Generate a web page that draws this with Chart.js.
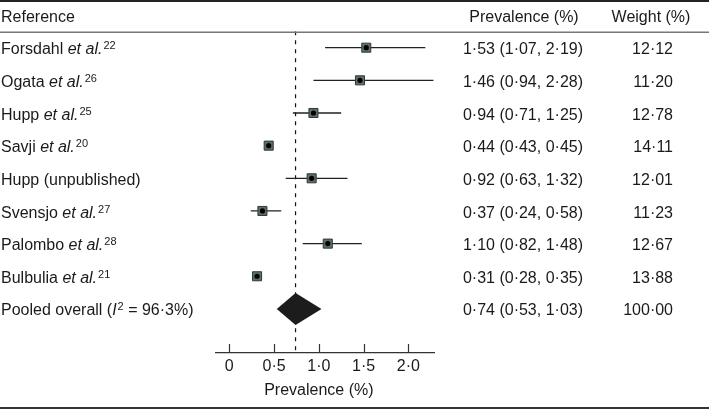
<!DOCTYPE html>
<html>
<head>
<meta charset="utf-8">
<script src="https://cdn.jsdelivr.net/npm/chart.js@4/dist/chart.umd.min.js"></script>
<style>
  html, body { margin: 0; padding: 0; background: #fff; }
  canvas { display: block; }
</style>
</head>
<body>
<canvas id="forest" width="709" height="410"></canvas>
<script>
// study rows, top to bottom
const studyNames = ['Forsdahl', 'Ogata', 'Hupp', 'Savji', 'Hupp (unpublished)', 'Svensjo', 'Palombo', 'Bulbulia'];
const refNumbers = ['22', '26', '25', '20', '', '27', '28', '21'];
const estimates = [1.53, 1.46, 0.94, 0.44, 0.92, 0.37, 1.10, 0.31];
const lowerCI = [1.07, 0.94, 0.71, 0.43, 0.63, 0.24, 0.82, 0.28];
const upperCI = [2.19, 2.28, 1.25, 0.45, 1.32, 0.58, 1.48, 0.35];
const weights = [12.12, 11.20, 12.78, 14.11, 12.01, 11.23, 12.67, 13.88];

// pooled row
const pooledLabel = 'Pooled overall';
const pooledI2 = 96.3;
const pooledEstimate = 0.74;
const pooledLower = 0.53;
const pooledUpper = 1.03;
const pooledWeight = 100.00;

// axis + column headers
const tickValues = [0, 0.5, 1, 1.5, 2];
const axisTitle = 'Prevalence (%)';
const headers = ['Reference', 'Prevalence (%)', 'Weight (%)'];

const FONT = '"Liberation Sans", Arial, Helvetica, sans-serif';
const TEXT = '#1a1a1a';
const pooledRow = studyNames.length;

// 1.5 -> "1·50"
function dot(str) { return String(str).replace('.', '\u00b7'); }

function studyParts(i) {
  if (!refNumbers[i]) return [{t: studyNames[i]}];
  return [{t: studyNames[i] + ' '}, {t: 'et al.', it: true}, {t: refNumbers[i], sup: true}];
}

function pooledParts() {
  return [{t: pooledLabel + ' ('}, {t: 'I', it: true}, {t: '2', sup: true},
          {t: ' = ' + dot(pooledI2.toFixed(1)) + '%)'}];
}

function partFont(p) {
  if (p.sup) return '11px ' + FONT;
  return (p.it ? 'italic ' : '') + '16px ' + FONT;
}

// draws a run of text pieces (italic / superscript) on one baseline
function drawParts(ctx, parts, x, base, align) {
  let w = 0;
  parts.forEach(p => { ctx.font = partFont(p); w += ctx.measureText(p.t).width; });
  let cx = align === 'right' ? x - w : (align === 'center' ? x - w / 2 : x);
  ctx.textAlign = 'left';
  ctx.textBaseline = 'alphabetic';
  parts.forEach(p => {
    ctx.font = partFont(p);
    ctx.fillText(p.t, cx, p.sup ? base - 5 : base);
    cx += ctx.measureText(p.t).width + (p.it && !p.sup ? 1 : 0);
  });
}

// table text, rules and inward tick marks
const tablePlugin = {
  id: 'table',
  afterDraw(chart) {
    const ctx = chart.ctx;
    const x = chart.scales.x, y = chart.scales.y;
    ctx.save();
    ctx.fillStyle = TEXT;

    // headers
    drawParts(ctx, [{t: headers[0]}], 1, 21.5, 'left');
    drawParts(ctx, [{t: headers[1]}], 524, 21.5, 'center');
    drawParts(ctx, [{t: headers[2]}], 651, 21.5, 'center');

    // study rows
    studyNames.forEach((n, i) => {
      const base = y.getPixelForValue(i) + 6.8;
      drawParts(ctx, studyParts(i), 1, base, 'left');
      const txt = dot(estimates[i].toFixed(2)) + ' (' + dot(lowerCI[i].toFixed(2)) + ', ' + dot(upperCI[i].toFixed(2)) + ')';
      drawParts(ctx, [{t: txt}], 583, base, 'right');
      drawParts(ctx, [{t: dot(weights[i].toFixed(2))}], 673, base, 'right');
    });

    // pooled row
    const pb = y.getPixelForValue(pooledRow) + 5.8;
    drawParts(ctx, pooledParts(), 1, pb, 'left');
    const ptxt = dot(pooledEstimate.toFixed(2)) + ' (' + dot(pooledLower.toFixed(2)) + ', ' + dot(pooledUpper.toFixed(2)) + ')';
    drawParts(ctx, [{t: ptxt}], 583, pb, 'right');
    drawParts(ctx, [{t: dot(pooledWeight.toFixed(2))}], 673, pb, 'right');

    // axis title, centred over the labelled ticks
    const mid = (x.getPixelForValue(tickValues[0]) + x.getPixelForValue(tickValues[tickValues.length - 1])) / 2;
    drawParts(ctx, [{t: axisTitle}], mid, 394.5, 'center');

    // tick marks point up from the axis
    ctx.strokeStyle = '#333';
    ctx.lineWidth = 1.2;
    x.ticks.forEach(t => {
      const px = Math.round(x.getPixelForValue(t.value)) + 0.5;
      ctx.beginPath();
      ctx.moveTo(px, chart.chartArea.bottom - 9);
      ctx.lineTo(px, chart.chartArea.bottom);
      ctx.stroke();
    });

    // horizontal rules
    ctx.strokeStyle = '#222';
    ctx.lineWidth = 2;
    ctx.beginPath(); ctx.moveTo(0, 1); ctx.lineTo(709, 1); ctx.stroke();
    ctx.strokeStyle = '#333';
    ctx.beginPath(); ctx.moveTo(0, 408); ctx.lineTo(709, 408); ctx.stroke();
    ctx.strokeStyle = '#777';
    ctx.lineWidth = 1.5;
    ctx.beginPath(); ctx.moveTo(0, 32.3); ctx.lineTo(709, 32.3); ctx.stroke();
    ctx.restore();
  }
};

const yMin = -0.5;
const yMax = pooledRow + 1.35;

const points = estimates.map((v, i) => ({x: v, y: i}));
const ciSegments = [];
estimates.forEach((v, i) => {
  ciSegments.push({x: lowerCI[i], y: i}, {x: upperCI[i], y: i}, {x: NaN, y: NaN});
});

const config = {
  type: 'scatter',
  data: {
    datasets: [
      { // centre dot
        data: points, order: 0,
        pointStyle: 'circle', pointRadius: 2.6,
        backgroundColor: '#000', borderWidth: 0
      },
      { // weight squares
        data: points, order: 1,
        pointStyle: 'rect', pointRadius: 6.4,
        backgroundColor: '#5d6e69', borderColor: '#2f3a37', borderWidth: 1
      },
      { // confidence intervals
        data: ciSegments, order: 2, showLine: true, spanGaps: false,
        borderColor: '#222', borderWidth: 1.3, pointRadius: 0
      },
      { // diamond, upper half
        data: [{x: pooledLower, y: pooledRow}, {x: pooledEstimate, y: pooledRow - 0.49}, {x: pooledUpper, y: pooledRow}],
        order: 3, showLine: true, pointRadius: 0, borderWidth: 0, tension: 0,
        backgroundColor: '#1c1c1c', borderColor: '#1c1c1c', fill: '+1'
      },
      { // diamond, lower half
        data: [{x: pooledLower, y: pooledRow}, {x: pooledEstimate, y: pooledRow + 0.49}, {x: pooledUpper, y: pooledRow}],
        order: 3, showLine: true, pointRadius: 0, borderWidth: 0, tension: 0,
        borderColor: '#1c1c1c'
      },
      { // dashed line at pooled estimate
        data: [{x: pooledEstimate, y: yMin}, {x: pooledEstimate, y: yMax}],
        order: 4, showLine: true, pointRadius: 0,
        borderColor: '#111', borderWidth: 1.2, borderDash: [4, 5]
      }
    ]
  },
  options: {
    responsive: false,
    animation: false,
    layout: { padding: { left: 215.7, right: 274.7, top: 31.35, bottom: 29.8 } },
    plugins: { legend: { display: false }, tooltip: { enabled: false } },
    scales: {
      x: {
        type: 'linear', min: -0.152, max: 2.29,
        afterBuildTicks: axis => { axis.ticks = tickValues.map(v => ({value: v})); },
        grid: { display: false, drawTicks: false },
        border: { display: true, color: '#333', width: 1.3 },
        ticks: {
          padding: 4, color: TEXT, font: { family: FONT, size: 16 },
          callback: v => v === 0 ? '0' : dot(v.toFixed(1))
        }
      },
      y: {
        type: 'linear', min: yMin, max: yMax, reverse: true, display: false
      }
    }
  },
  plugins: [tablePlugin]
};

new Chart(document.getElementById('forest'), config);
</script>
</body>
</html>
